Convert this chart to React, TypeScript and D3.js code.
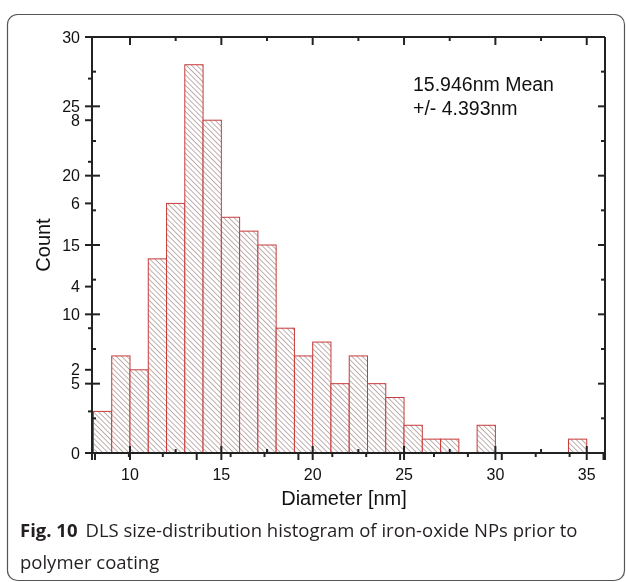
import React from 'react';
import * as d3 from 'd3';

// histogram bins (left edge, nm) and counts
const binStarts = [8, 9, 10, 11, 12, 13, 14, 15, 16, 17, 18, 19, 20, 21, 22, 23, 24, 25, 26, 27, 28, 29, 30, 31, 32, 33, 34];
const counts = [3, 7, 6, 14, 18, 28, 24, 17, 16, 15, 9, 7, 8, 5, 7, 5, 4, 2, 1, 1, 0, 2, 0, 0, 0, 0, 1];

const xTicks = [10, 15, 20, 25, 30, 35];
const yTicks = [0, 5, 10, 15, 20, 25, 30];
// stray second y-axis left in the exported figure
const yTicks2 = [2, 4, 6, 8];

const statLines = ['15.946nm Mean', '+/- 4.393nm'];
const captionBold = 'Fig. 10';
const captionLine1 = 'DLS size-distribution histogram of iron-oxide NPs prior to';
const captionLine2 = 'polymer coating';

const W = 626;
const H = 582;
const margin = { top: 37, right: 21, bottom: 129, left: 92 };

const App = () => {
  const x = d3.scaleLinear().domain([7.92, 36]).range([margin.left, W - margin.right]);
  const y = d3.scaleLinear().domain([0, 30]).range([H - margin.bottom, margin.top]);
  const y2 = d3.scaleLinear().domain([0, 10]).range([H - margin.bottom, margin.top]);
  // second x-axis ticks (unlabelled)
  const x2 = d3.scaleLinear().domain([0, 15]).range([95, 603.5]);

  const x0 = margin.left;
  const x1 = W - margin.right;
  const yb = H - margin.bottom;
  const yt = margin.top;
  const axisColor = '#222';
  const font = 'Arial, "Liberation Sans", sans-serif';

  const minorX = d3.range(10, 36, 2.5).filter((v) => v % 5 !== 0);
  const minorY = d3.range(2.5, 30, 5);
  const y2Minor = d3.range(1, 10, 2);
  const x2All = d3.range(0, 16);

  return (
    <svg width={W} height={H} style={{ position: 'fixed', left: 0, top: 0 }}>
      <defs>
        <pattern id="hatch" patternUnits="userSpaceOnUse" width={3.7} height={3.7} patternTransform="rotate(-45)">
          <rect width={3.7} height={3.7} fill="#fff" />
          <line x1={0} y1={0} x2={0} y2={3.7} stroke="#806060" strokeWidth={1} />
        </pattern>
      </defs>

      <rect x={7.5} y={14.5} width={617} height={566} rx={10} fill="#fff" stroke="#555" strokeWidth={1.2} />

      {/* bars */}
      {binStarts.map((b, i) =>
        counts[i] > 0 ? (
          <rect
            key={b}
            x={x(b)}
            y={y(counts[i])}
            width={x(b + 1) - x(b)}
            height={yb - y(counts[i])}
            fill="url(#hatch)"
            stroke="#c83a3a"
            strokeWidth={1}
          />
        ) : null
      )}

      {/* frame */}
      <g stroke={axisColor} strokeWidth={2} fill="none">
        <line x1={x0 - 7} y1={yb} x2={x1} y2={yb} />
        <line x1={x0} y1={yt} x2={x0} y2={yb + 7} />
        <line x1={x0} y1={yt} x2={x1} y2={yt} />
        <line x1={x1} y1={yt} x2={x1} y2={yb + 7} />
      </g>

      {/* bottom + top x ticks */}
      <g stroke={axisColor} strokeWidth={2}>
        {xTicks.map((t) => (
          <g key={t}>
            <line x1={x(t)} x2={x(t)} y1={yb - 7} y2={yb + 7} />
            <line x1={x(t)} x2={x(t)} y1={yt} y2={yt + 8} />
          </g>
        ))}
        {minorX.map((t) => (
          <g key={t}>
            <line x1={x(t)} x2={x(t)} y1={yb - 4} y2={yb} />
            <line x1={x(t)} x2={x(t)} y1={yt} y2={yt + 4} />
          </g>
        ))}
        {x2All.map((t) => (
          <line key={t} x1={x2(t)} x2={x2(t)} y1={yb} y2={yb + (t % 3 === 0 ? 7 : 4)} />
        ))}
      </g>

      {/* left + right y ticks */}
      <g stroke={axisColor} strokeWidth={2}>
        {yTicks.map((t) => (
          <g key={t}>
            <line x1={x0 - 7} x2={x0 + 8} y1={y(t)} y2={y(t)} />
            <line x1={x1 - 7} x2={x1} y1={y(t)} y2={y(t)} />
          </g>
        ))}
        {minorY.map((t) => (
          <g key={t}>
            <line x1={x0} x2={x0 + 4} y1={y(t)} y2={y(t)} />
            <line x1={x1 - 4} x2={x1} y1={y(t)} y2={y(t)} />
          </g>
        ))}
        {yTicks2.map((t) => (
          <line key={t} x1={x0 - 7} x2={x0} y1={y2(t)} y2={y2(t)} />
        ))}
        {y2Minor.map((t) => (
          <line key={t} x1={x0 - 4} x2={x0} y1={y2(t)} y2={y2(t)} />
        ))}
      </g>

      {/* tick labels */}
      <g fontFamily={font} fontSize={16} fill="#111">
        {xTicks.map((t) => (
          <text key={t} x={x(t)} y={yb + 27} textAnchor="middle">{t}</text>
        ))}
        {yTicks.map((t) => (
          <text key={t} x={x0 - 12} y={y(t)} dy="0.35em" textAnchor="end">{t}</text>
        ))}
        {yTicks2.map((t) => (
          <text key={t} x={x0 - 12} y={y2(t)} dy="0.35em" textAnchor="end">{t}</text>
        ))}
      </g>

      {/* axis titles */}
      <text x={344} y={505} textAnchor="middle" fontFamily={font} fontSize={20} fill="#111">
        Diameter [nm]
      </text>
      <text
        transform={`translate(50, ${(yt + yb) / 2}) rotate(-90)`}
        textAnchor="middle"
        fontFamily={font}
        fontSize={20}
        fill="#111"
      >
        Count
      </text>

      {/* stats */}
      <g fontFamily={font} fontSize={19.5} fill="#111">
        {statLines.map((s, i) => (
          <text key={s} x={413} y={91 + i * 23.5}>{s}</text>
        ))}
      </g>

      {/* caption */}
      <g fontFamily='"Open Sans", "Noto Sans", sans-serif' fontSize={18.5} fill="#231f20">
        <text x={20} y={537}>
          <tspan fontWeight="bold">{captionBold}</tspan>
          <tspan dx={8}>{captionLine1}</tspan>
        </text>
        <text x={20} y={569}>{captionLine2}</text>
      </g>
    </svg>
  );
};

export default App;
